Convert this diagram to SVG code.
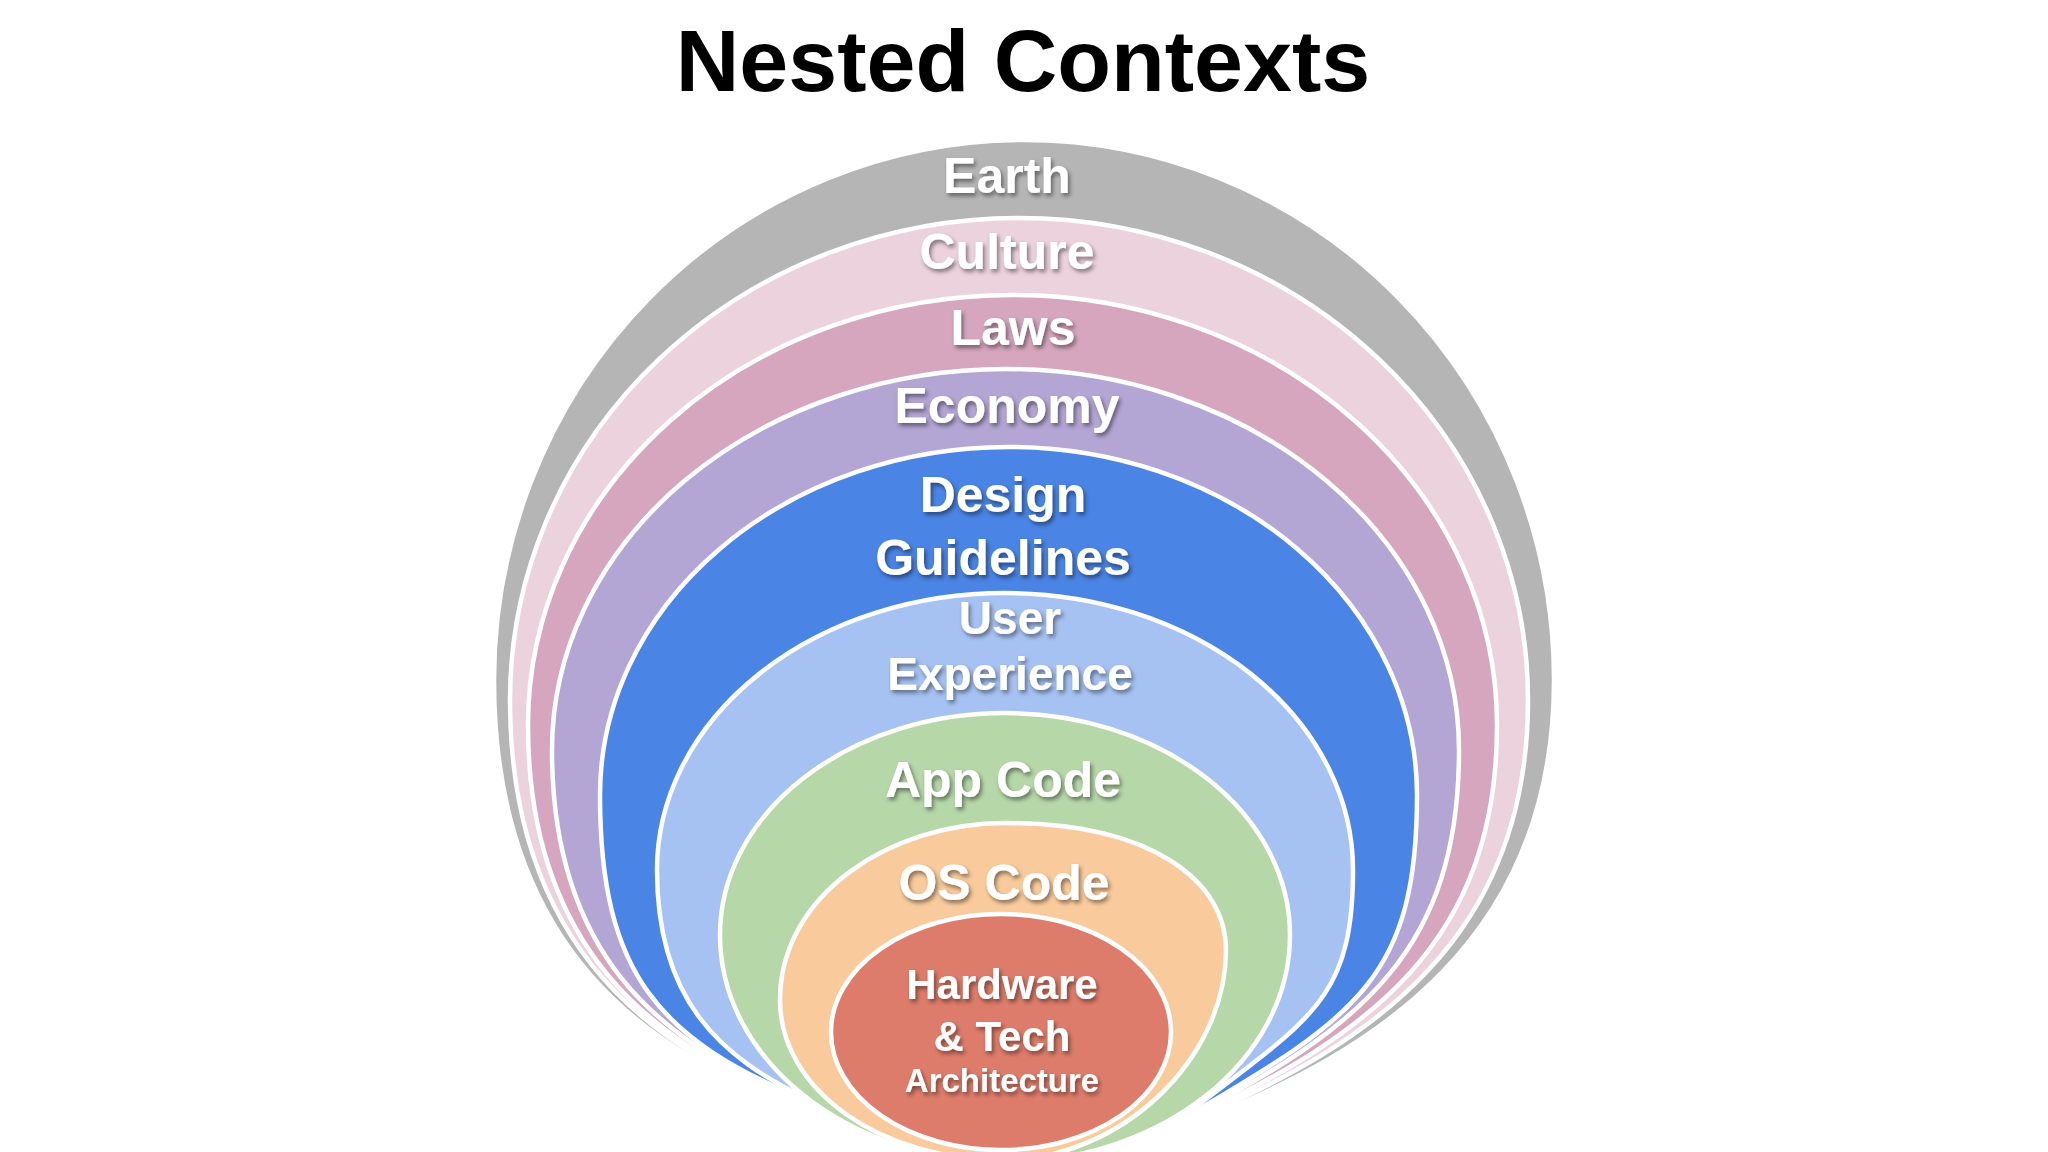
<svg xmlns="http://www.w3.org/2000/svg" width="2048" height="1152" viewBox="0 0 2048 1152">
<defs>
<filter id="sh" x="-20%" y="-30%" width="140%" height="160%">
<feDropShadow dx="2" dy="3" stdDeviation="2" flood-color="#000" flood-opacity="0.45"/>
</filter>
<style>
.layer{stroke:#fff;stroke-width:4.5}
.lbl{font-family:"Liberation Sans",Arial,sans-serif;font-weight:bold;fill:#fff;text-anchor:middle;filter:url(#sh)}
.title{font-family:"Liberation Sans",Arial,sans-serif;font-weight:bold;fill:#000;text-anchor:middle;font-size:88px}
</style>
</defs>
<rect width="2048" height="1152" fill="#fff"/>
<text class="title" x="1023" y="91">Nested Contexts</text>
<g id="earth">
<path class="layer" fill="#b5b5b6" d="M494,680 A530,540 0 0 1 1554,680 C1554,940 1375.5,1051 1200,1120 C1120,1150 1050,1150 1005,1150 C960,1150 884,1135 804,1105 C628,1051 494,930 494,680 Z"/>
<text class="lbl" x="1007" y="193" font-size="50">Earth</text>
</g>
<g id="culture">
<path class="layer" fill="#ebd2dd" d="M510,700 A509,482 0 0 1 1528,700 C1528,940 1371,1042 1198.5,1118 C1118.5,1148 1050,1150 1005,1150 C960,1150 885,1134 805,1104 C636,1048 510,932 510,700 Z"/>
<text class="lbl" x="1007" y="269" font-size="50">Culture</text>
</g>
<g id="laws">
<path class="layer" fill="#d5a6bd" d="M528,725 A484.5,430 0 0 1 1497,725 C1497,945 1367,1033.5 1197,1116 C1117,1146 1050,1150 1005,1150 C960,1150 886,1133 806,1103 C644,1045.5 528,940 528,725 Z"/>
<text class="lbl" x="1013" y="345" font-size="50">Laws</text>
</g>
<g id="economy">
<path class="layer" fill="#b3a5d4" d="M552,750 A453.5,381 0 0 1 1459,750 C1459,950 1362,1025 1195.5,1114 C1115.5,1144 1050,1150 1005,1150 C960,1150 887,1132 807,1102 C652,1043 552,948 552,750 Z"/>
<text class="lbl" x="1007" y="423" font-size="50">Economy</text>
</g>
<g id="design">
<path class="layer" fill="#4a84e4" d="M600,795 A408.5,348 0 0 1 1417,795 C1417,975 1358,1016 1194,1112 C1114,1142 1050,1150 1005,1150 C960,1150 888,1131 808,1101 C660,1040 600,975 600,795 Z"/>
<text class="lbl" x="1003" y="512" font-size="50">Design</text>
<text class="lbl" x="1003" y="575" font-size="50">Guidelines</text>
</g>
<g id="ux">
<path class="layer" fill="#a6c2f2" d="M657,870 A348,277 0 0 1 1353,870 C1353,1000 1310.5,1018.5 1192,1110 C1112,1140 1050,1150 1005,1150 C960,1150 890,1130 810,1100 C719.5,1057.4 657,1000 657,870 Z"/>
<text class="lbl" x="1010" y="634" font-size="46">User</text>
<text class="lbl" x="1010" y="690" font-size="46">Experience</text>
</g>
<g id="app">
<path class="layer" fill="#b6d7a8" d="M720,935 A285,222 0 0 1 1290,935 C1290,1060 1162,1162 1005,1162 C848,1162 720,1060 720,935 Z"/>
<text class="lbl" x="1003" y="797" font-size="50">App Code</text>
</g>
<g id="os">
<path class="layer" fill="#f9cb9c" d="M1005,823 C1150,823 1226,880 1226,950 C1226,1060 1120,1160 1003,1160 C880,1160 780,1090 780,1000 C780,895 890,823 1005,823 Z"/>
<text class="lbl" x="1004" y="900" font-size="50">OS Code</text>
</g>
<g id="hardware">
<ellipse class="layer" fill="#dd7c6a" cx="1001" cy="1032" rx="170" ry="118"/>
<text class="lbl" x="1002" y="999" font-size="42">Hardware</text>
<text class="lbl" x="1002" y="1051" font-size="42">&amp; Tech</text>
<text class="lbl" x="1002" y="1092" font-size="33">Architecture</text>
</g>
<g id="connectors"/>
</svg>
